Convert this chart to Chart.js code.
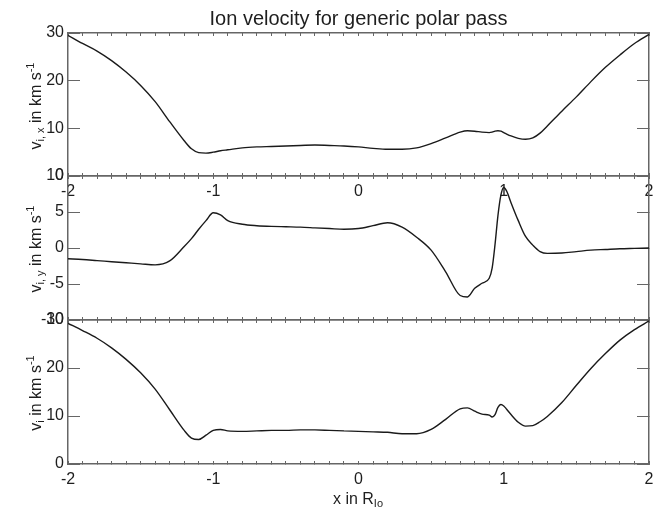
<!DOCTYPE html>
<html>
<head>
<meta charset="utf-8">
<script src="https://cdn.jsdelivr.net/npm/chart.js@4.4.1/dist/chart.umd.min.js"></script>
<style>
  html, body { margin: 0; padding: 0; background: #fff; }
  #wrap { position: relative; width: 664px; height: 509px; font-family: 'Liberation Sans', Arial, sans-serif; color: #1e1e1e; }
  #wrap canvas { position: absolute; left: 0; top: 0; }
  .ytitle { position: absolute; white-space: nowrap; font-size: 16px; line-height: 16px; transform: translate(-50%, -50%) rotate(-90deg); }
  .xtitle { position: absolute; white-space: nowrap; font-size: 16px; line-height: 16px; transform: translateX(-50%); }
  sub, sup { font-size: 11px; line-height: 0; }
  sub { vertical-align: -3px; }
  sup { vertical-align: 7px; }
</style>
</head>
<body>
<div id="wrap">
  <canvas id="c1" width="664" height="509"></canvas>
  <canvas id="c2" width="664" height="509"></canvas>
  <canvas id="c3" width="664" height="509"></canvas>
  <div class="ytitle" style="left:36px;top:106px">v<sub>i, x</sub> in km s<sup>-1</sup></div>
  <div class="ytitle" style="left:36px;top:249px">v<sub>i, y</sub> in km s<sup>-1</sup></div>
  <div class="ytitle" style="left:36px;top:393px">v<sub>i</sub> in km s<sup>-1</sup></div>
  <div class="xtitle" style="left:358px;top:491px">x in R<sub>Io</sub></div>
</div>
<script>
// Velocidad ionica en un paso polar generico: tres paneles apilados.

const xPos = [-2, -1.9, -1.8, -1.7, -1.6, -1.5, -1.4, -1.3, -1.2, -1.15, -1.1, -1.05, -1.0, -0.95, -0.9,
  -0.8, -0.7, -0.6, -0.5, -0.4, -0.3, -0.2, -0.1, 0, 0.1, 0.2, 0.3, 0.4, 0.5, 0.6, 0.7, 0.75, 0.8, 0.85,
  0.9, 0.92, 0.94, 0.96, 0.98, 1.0, 1.02, 1.05, 1.1, 1.15, 1.2, 1.25, 1.3, 1.4, 1.5, 1.6, 1.7, 1.8, 1.9, 2.0];

const vix = [29.5, 27.8, 26.2, 24.2, 21.8, 19.0, 15.6, 11.4, 7.4, 5.7, 4.9, 4.8, 5.0, 5.3, 5.5,
  5.9, 6.1, 6.2, 6.3, 6.4, 6.5, 6.4, 6.3, 6.1, 5.8, 5.6, 5.6, 5.9, 6.8, 8.0, 9.2, 9.5, 9.4, 9.2,
  9.1, 9.2, 9.4, 9.5, 9.4, 9.1, 8.8, 8.4, 7.9, 7.7, 8.0, 9.0, 10.5, 13.6, 16.6, 19.8, 22.8, 25.4, 27.8, 29.7];

const viy = [-1.5, -1.6, -1.75, -1.9, -2.05, -2.2, -2.35, -1.8, 0.2, 1.3, 2.6, 3.8, 4.9, 4.6, 3.8,
  3.3, 3.1, 3.0, 2.95, 2.9, 2.8, 2.7, 2.6, 2.7, 3.1, 3.5, 2.9, 1.5, -0.3, -3.3, -6.6, -6.8, -5.6, -4.9,
  -4.2, -2.8, 0.5, 4.5, 7.3, 8.4, 7.9, 6.3, 3.8, 1.6, 0.4, -0.5, -0.75, -0.7, -0.5, -0.3, -0.2, -0.1, -0.05, 0];

const vi = [29.3, 27.8, 26.2, 24.2, 21.8, 19.0, 15.6, 11.3, 7.0, 5.4, 5.1, 6.0, 7.0, 7.2, 6.9,
  6.8, 6.9, 7.0, 7.0, 7.1, 7.1, 7.0, 6.9, 6.8, 6.7, 6.6, 6.3, 6.3, 7.2, 9.3, 11.5, 11.7, 11.0, 10.4,
  10.2, 9.8, 10.3, 11.8, 12.4, 12.1, 11.4, 10.3, 8.7, 7.9, 8.0, 8.8, 9.9, 12.8, 16.4, 19.9, 23.0, 25.8, 28.0, 29.8];

const FONT = "'Liberation Sans', Arial, sans-serif";
const FRAME = '#666';
const INK = '#1e1e1e';
const H = 509;

function xAxis(position, showLabels, size, title) {
  return {
    type: 'linear', position, min: -2, max: 2,
    afterFit: s => { s.height = size; },
    border: { color: FRAME, width: 1.5 },
    grid: { drawOnChartArea: false, drawTicks: true, tickLength: -3, tickColor: FRAME, tickWidth: 1 },
    ticks: {
      stepSize: 0.1, autoSkip: false, maxRotation: 0, minRotation: 0,
      display: showLabels, padding: 9, color: INK, font: { family: FONT, size: 16 },
      callback: v => Math.abs(v - Math.round(v)) < 1e-6 ? String(Math.round(v)) : ''
    },
    title: title
      ? { display: true, text: title, color: INK, font: { family: FONT, size: 20 }, padding: { top: 7, bottom: 0 } }
      : { display: false }
  };
}

function yAxis(position, min, max, step, size, showLabels) {
  return {
    type: 'linear', position, min, max,
    afterFit: s => { s.width = size; },
    border: { color: FRAME, width: 1.5 },
    grid: { drawOnChartArea: false, drawTicks: true, tickLength: -12, tickColor: FRAME, tickWidth: 1 },
    ticks: {
      stepSize: step, display: showLabels, padding: 16, color: INK, font: { family: FONT, size: 16 },
      callback: v => String(v)
    }
  };
}

function panel(id, values, o) {
  const points = xPos.map((x, i) => ({ x, y: values[i] }));
  return new Chart(document.getElementById(id), {
    type: 'line',
    data: {
      datasets: [{
        data: points, borderColor: '#1a1a1a', borderWidth: 1.4, pointRadius: 0,
        cubicInterpolationMode: 'monotone', fill: false
      }]
    },
    options: {
      responsive: false, animation: false, events: [],
      layout: { padding: 0 },
      plugins: { legend: { display: false }, tooltip: { enabled: false } },
      scales: {
        x: xAxis('bottom', o.xLabels, H - o.bottom),
        x2: xAxis('top', false, o.top, o.title),
        y: yAxis('left', o.min, o.max, o.step, 68, true),
        y2: yAxis('right', o.min, o.max, o.step, 15, false)
      }
    }
  });
}

panel('c1', vix, { top: 33, bottom: 176, min: 0, max: 30, step: 10, xLabels: true, title: 'Ion velocity for generic polar pass' });
panel('c2', viy, { top: 176, bottom: 320, min: -10, max: 10, step: 5, xLabels: false });
panel('c3', vi, { top: 320, bottom: 464, min: 0, max: 30, step: 10, xLabels: true });
</script>
</body>
</html>
